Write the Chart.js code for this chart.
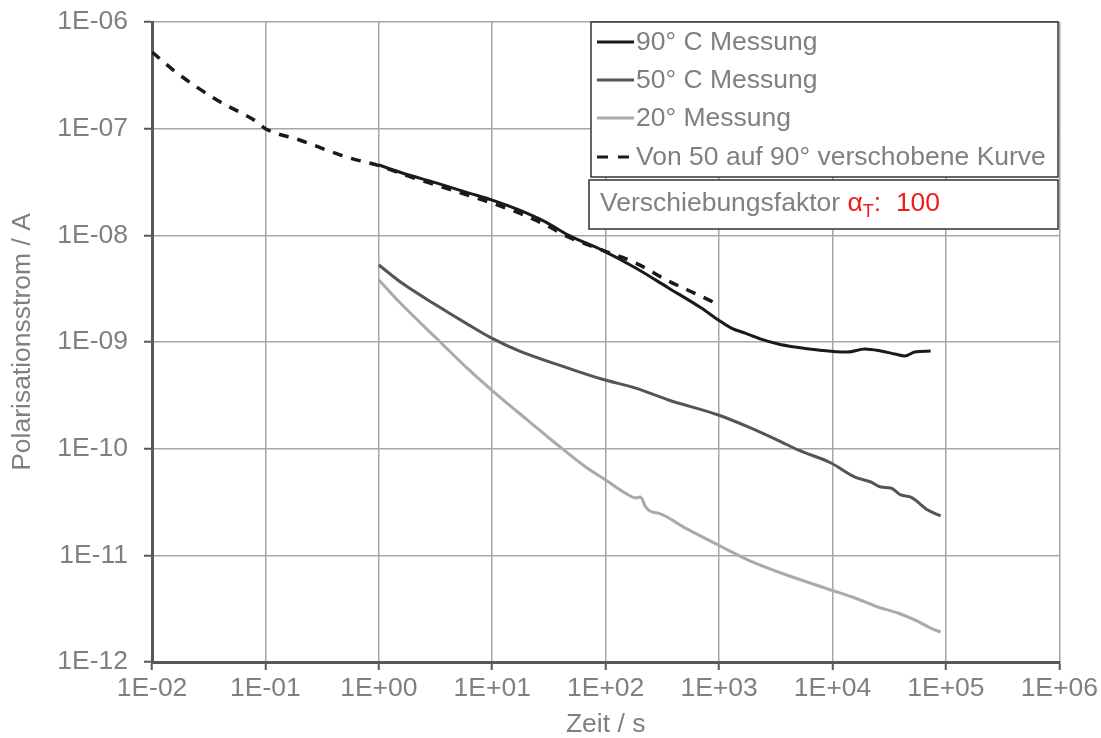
<!DOCTYPE html>
<html>
<head>
<meta charset="utf-8">
<script src="https://cdn.jsdelivr.net/npm/chart.js@4.4.1/dist/chart.umd.min.js"></script>
<style>
  html, body { margin: 0; padding: 0; background: #fff; }
  #wrap { width: 1101px; height: 738px; }
</style>
</head>
<body>
<div id="wrap"><canvas id="chart" width="1101" height="738"></canvas></div>
<script>
// Zeit / s  and  Polarisationsstrom / A
const t90 = [1, 1.61, 3.2, 6.25, 10, 17.2, 29.7, 47.3, 92, 184, 358, 698, 985, 1282, 1702, 2307, 3320, 4680, 7460, 13680, 19300, 26700, 35400, 43300, 53100, 73400];
const i90 = [4.56e-8, 3.84e-8, 3.1e-8, 2.49e-8, 2.14e-8, 1.73e-8, 1.33e-8, 1.0e-8, 7.3e-9, 4.94e-9, 3.21e-9, 2.08e-9, 1.61e-9, 1.35e-9, 1.21e-9, 1.07e-9, 9.58e-10, 8.97e-10, 8.41e-10, 8.05e-10, 8.59e-10, 8.23e-10, 7.73e-10, 7.4e-10, 8.05e-10, 8.23e-10];

const t50 = [1, 1.61, 3.2, 6.25, 10, 17.2, 47.3, 92, 184, 358, 985, 1807, 3524, 4977, 9710, 15780, 21800, 26700, 32700, 40000, 49000, 69200, 89900];
const i50 = [5.27e-9, 3.55e-9, 2.22e-9, 1.44e-9, 1.08e-9, 8.25e-10, 5.66e-10, 4.5e-10, 3.7e-10, 2.86e-10, 2.07e-10, 1.6e-10, 1.16e-10, 9.72e-11, 7.34e-11, 5.42e-11, 4.87e-11, 4.37e-11, 4.28e-11, 3.68e-11, 3.52e-11, 2.66e-11, 2.34e-11];

const t20 = [1, 1.61, 3.2, 6.25, 10, 17.2, 33.5, 66.7, 100, 159, 184, 203, 225, 254, 292, 505, 985, 1807, 3524, 9710, 15780, 25100, 37700, 53100, 73400, 89900];
const i20 = [3.81e-9, 2.22e-9, 1.09e-9, 5.47e-10, 3.5e-10, 2.16e-10, 1.2e-10, 6.73e-11, 5.08e-11, 3.68e-11, 3.45e-11, 3.52e-11, 2.84e-11, 2.55e-11, 2.49e-11, 1.8e-11, 1.25e-11, 9.04e-12, 6.83e-12, 4.73e-12, 3.98e-12, 3.28e-12, 2.88e-12, 2.48e-12, 2.08e-12, 1.91e-12];

const tShift = [0.01, 0.0166, 0.0373, 0.0837, 0.1, 0.2, 0.518, 1, 1.61, 3.2, 6.25, 10, 17.2, 29.7, 47.3, 92, 184, 358, 657, 927];
const iShift = [5.23e-7, 3.33e-7, 1.86e-7, 1.16e-7, 1.0e-7, 7.83e-8, 5.42e-8, 4.5e-8, 3.75e-8, 2.96e-8, 2.36e-8, 2.0e-8, 1.62e-8, 1.25e-8, 9.6e-9, 7.3e-9, 5.5e-9, 3.73e-9, 2.76e-9, 2.32e-9];

const xTicks = [1e-2, 1e-1, 1e0, 1e1, 1e2, 1e3, 1e4, 1e5, 1e6];
const yTicks = [1e-12, 1e-11, 1e-10, 1e-9, 1e-8, 1e-7, 1e-6];

const seriesLabels = ["90° C Messung", "50° C Messung", "20° Messung", "Von 50 auf 90° verschobene Kurve"];
const shiftLabel = "Verschiebungsfaktor ";
const shiftFactor = "100";

const FONT = "'Liberation Sans', Arial, sans-serif";
const FS = 26.5;
const TEXT_GREY = "#808080";
const AXIS_GREY = "#595959";

function pts(xs, ys) {
  return xs.map((x, i) => ({ x: x, y: ys[i] }));
}

// 1E-06 / 1E+02 style labels
function sciLabel(v) {
  const e = Math.round(Math.log10(v));
  return "1E" + (e < 0 ? "-" : "+") + String(Math.abs(e)).padStart(2, "0");
}

// boxed legend + shift factor box, drawn inside the plot like the excel original
const legendBoxes = {
  id: "legendBoxes",
  afterDatasetsDraw(chart) {
    const ctx = chart.ctx;
    const ds = chart.data.datasets;
    ctx.save();

    // legend box
    ctx.fillStyle = "#fff";
    ctx.fillRect(591, 22, 467, 155);
    ctx.strokeStyle = "#333";
    ctx.lineWidth = 1.5;
    ctx.strokeRect(591, 22, 467, 155);

    const rowY = [42, 80, 118, 157];
    ctx.font = FS + "px " + FONT;
    ctx.textBaseline = "middle";
    ds.forEach((d, r) => {
      ctx.strokeStyle = d.borderColor;
      ctx.lineWidth = 3;
      ctx.setLineDash(d.borderDash ? [11, 10] : []);
      ctx.beginPath();
      ctx.moveTo(597, rowY[r]);
      ctx.lineTo(634, rowY[r]);
      ctx.stroke();
      ctx.setLineDash([]);
      ctx.fillStyle = TEXT_GREY;
      ctx.fillText(d.label, 636, rowY[r] + 1);
    });

    // shift factor box
    ctx.fillStyle = "#fff";
    ctx.fillRect(589, 180, 469, 49);
    ctx.strokeStyle = "#333";
    ctx.lineWidth = 1.5;
    ctx.strokeRect(589, 180, 469, 49);

    ctx.textBaseline = "alphabetic";
    let x = 600;
    const base = 211;
    ctx.font = FS + "px " + FONT;
    ctx.fillStyle = TEXT_GREY;
    ctx.fillText(shiftLabel, x, base);
    x += ctx.measureText(shiftLabel).width;
    ctx.fillStyle = "#ee1c1c";
    ctx.fillText("\u03B1", x, base);
    x += ctx.measureText("\u03B1").width;
    ctx.font = "18px " + FONT;
    ctx.fillText("T", x, base + 6);
    x += ctx.measureText("T").width;
    ctx.font = FS + "px " + FONT;
    ctx.fillText(":  " + shiftFactor, x, base);

    ctx.restore();
  }
};

const ctx = document.getElementById("chart").getContext("2d");
new Chart(ctx, {
  type: "line",
  data: {
    datasets: [
      { label: seriesLabels[0], data: pts(t90, i90), borderColor: "#1a1a1a", borderWidth: 3, order: 2 },
      { label: seriesLabels[1], data: pts(t50, i50), borderColor: "#555555", borderWidth: 3, order: 3 },
      { label: seriesLabels[2], data: pts(t20, i20), borderColor: "#aaaaaa", borderWidth: 3, order: 4 },
      { label: seriesLabels[3], data: pts(tShift, iShift), borderColor: "#1a1a1a", borderWidth: 3.5, borderDash: [10, 9], order: 1 }
    ]
  },
  options: {
    responsive: false,
    animation: false,
    layout: { padding: { left: 0, right: 39, top: 22, bottom: 0 } },
    elements: {
      point: { radius: 0 },
      line: { cubicInterpolationMode: "monotone", fill: false, borderCapStyle: "butt" }
    },
    plugins: {
      legend: { display: false },
      tooltip: { enabled: false }
    },
    scales: {
      x: {
        type: "logarithmic",
        min: 1e-2,
        max: 1e6,
        afterBuildTicks: (s) => { s.ticks = xTicks.map(v => ({ value: v })); },
        afterFit: (s) => { s.height = 76; },
        ticks: {
          callback: (v) => sciLabel(v),
          color: TEXT_GREY,
          font: { family: FONT, size: FS },
          padding: 3,
          autoSkip: false,
          maxRotation: 0
        },
        grid: { color: "#a6a6a6", lineWidth: 1.5, tickColor: AXIS_GREY, tickWidth: 2, tickLength: 8 },
        border: { color: AXIS_GREY, width: 3 },
        title: { display: true, text: "Zeit / s", color: TEXT_GREY, font: { family: FONT, size: FS, lineHeight: 1 }, padding: 0 }
      },
      y: {
        type: "logarithmic",
        min: 1e-12,
        max: 1e-6,
        afterBuildTicks: (s) => { s.ticks = yTicks.map(v => ({ value: v })); },
        afterFit: (s) => { s.width = 152; s.paddingTop = 0; s.paddingBottom = 0; },
        ticks: {
          callback: (v) => sciLabel(v),
          color: TEXT_GREY,
          font: { family: FONT, size: FS },
          padding: 16,
          autoSkip: false
        },
        grid: { color: "#a6a6a6", lineWidth: 1.5, tickColor: AXIS_GREY, tickWidth: 2, tickLength: 8 },
        border: { color: AXIS_GREY, width: 3 },
        title: { display: true, text: "Polarisationsstrom / A", color: TEXT_GREY, font: { family: FONT, size: FS, lineHeight: 1.2 }, padding: { top: 7, bottom: 0 } }
      }
    }
  },
  plugins: [legendBoxes]
});
</script>
</body>
</html>
